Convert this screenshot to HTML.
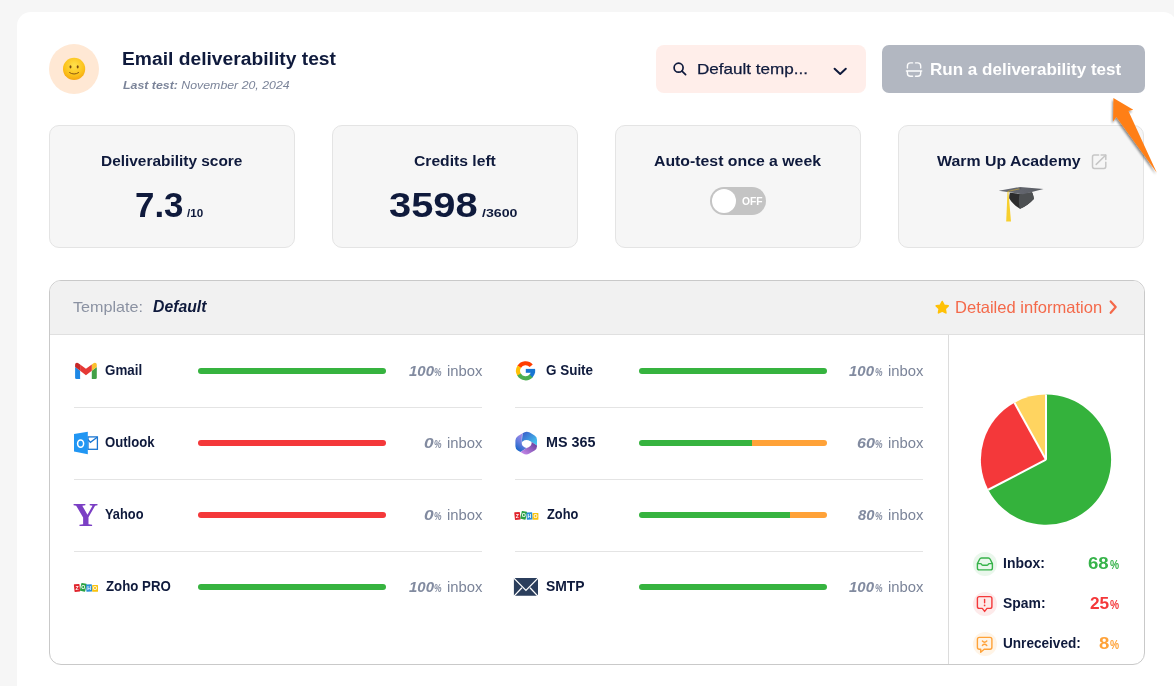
<!DOCTYPE html>
<html lang="en">
<head>
<meta charset="utf-8">
<title>Email deliverability test</title>
<style>
*{box-sizing:border-box;margin:0;padding:0}
html,body{width:1174px;height:686px;overflow:hidden;background:#f6f6f6;font-family:"Liberation Sans",sans-serif;color:#0f1a3c}
.abs{position:absolute}
.tx{position:absolute;line-height:1;white-space:nowrap;transform-origin:0 0}
#main{position:absolute;left:17px;top:12px;width:1160px;height:700px;background:#fff;border-radius:14px 14px 0 0}
#avatar{left:49px;top:44px;width:50px;height:50px;border-radius:50%;background:#ffe8d4}
#select{left:656px;top:45px;width:210px;height:48px;border-radius:8px;background:#ffeeea}
#runbtn{left:882px;top:45px;width:263px;height:48px;border-radius:7px;background:#b2b7c1}
.stat{position:absolute;top:125px;width:246px;height:123px;background:#f6f6f6;border:1px solid #e4e4e4;border-radius:10px}
#toggle{left:710px;top:187px;width:56px;height:28px;border-radius:14px;background:#c4c4c4}
#toggle i{position:absolute;left:2px;top:2px;width:24px;height:24px;border-radius:50%;background:#fff}
#panel{left:49px;top:280px;width:1096px;height:385px;border:1px solid #c9c9c9;border-radius:12px;background:#fff;overflow:hidden}
#phead{position:absolute;left:0;top:0;right:0;height:54px;background:#f1f1f1;border-bottom:1px solid #e0e0e0}
#vdiv{position:absolute;left:898px;top:54px;bottom:0;width:1px;background:#dcdcdc}
.bar{position:absolute;width:188px;height:6px;border-radius:3px;overflow:hidden}
.bar b{display:block;float:left;height:100%}
.bar b.g{background:#36b33f}.bar b.r{background:#f4383a}.bar b.o{background:#ffa238}
.sep{position:absolute;height:1px;width:408px;background:#e4e4e4}
.lic{position:absolute;left:973px;width:24px;height:24px;border-radius:50%}
svg{position:absolute;left:0;top:0;overflow:visible}
#yahoo{position:absolute;left:73.2px;top:498.6px;font-family:"Liberation Serif",serif;font-weight:700;font-size:33px;line-height:1;color:#7b3fc4;transform:scaleX(1.055);transform-origin:0 0}

</style>
</head>
<body>
<div id="main"></div>
<div id="avatar" class="abs"></div>
<div id="select" class="abs"></div>
<div id="runbtn" class="abs"></div>
<div class="stat" style="left:49px"></div>
<div class="stat" style="left:332px"></div>
<div class="stat" style="left:615px"></div>
<div class="stat" style="left:898px"></div>
<div id="toggle" class="abs"><i></i></div>
<div id="panel" class="abs"><div id="phead"></div><div id="vdiv"></div></div>
<div class="bar" style="left:198.0px;top:368px"><b class="g" style="width:100%"></b></div>
<div class="sep" style="left:74.0px;top:407px"></div>
<div class="bar" style="left:198.0px;top:440px"><b class="r" style="width:100%"></b></div>
<div class="sep" style="left:74.0px;top:479px"></div>
<div class="bar" style="left:198.0px;top:512px"><b class="r" style="width:100%"></b></div>
<div class="sep" style="left:74.0px;top:551px"></div>
<div class="bar" style="left:198.0px;top:584px"><b class="g" style="width:100%"></b></div>
<div class="bar" style="left:638.6px;top:368px"><b class="g" style="width:100%"></b></div>
<div class="sep" style="left:514.6px;top:407px"></div>
<div class="bar" style="left:638.6px;top:440px"><b class="g" style="width:60.4%"></b><b class="o" style="width:39.6%"></b></div>
<div class="sep" style="left:514.6px;top:479px"></div>
<div class="bar" style="left:638.6px;top:512px"><b class="g" style="width:80.5%"></b><b class="o" style="width:19.5%"></b></div>
<div class="sep" style="left:514.6px;top:551px"></div>
<div class="bar" style="left:638.6px;top:584px"><b class="g" style="width:100%"></b></div>
<div class="lic" style="top:552px;background:#eaf7ec"></div>
<div class="lic" style="top:592px;background:#fdeaea"></div>
<div class="lic" style="top:632px;background:#fff4e6"></div>
<svg width="1174" height="686" viewBox="0 0 1174 686">
<defs><radialGradient id="gsm" cx="0.5" cy="0.35" r="0.75"><stop offset="0" stop-color="#ffe14d"/><stop offset="0.6" stop-color="#fcc21b"/><stop offset="1" stop-color="#f29a0f"/></radialGradient><linearGradient id="gm1" x1="0" y1="0" x2="1" y2="1"><stop offset="0" stop-color="#3a56c8"/><stop offset="1" stop-color="#45d4f5"/></linearGradient><linearGradient id="gm2" x1="0.8" y1="0" x2="0.3" y2="1"><stop offset="0" stop-color="#b98ae8"/><stop offset="0.5" stop-color="#6f7fe0"/><stop offset="1" stop-color="#1565c8"/></linearGradient><linearGradient id="gm3" x1="0" y1="1" x2="1" y2="0"><stop offset="0" stop-color="#cf8ff0"/><stop offset="1" stop-color="#5c3796"/></linearGradient><linearGradient id="gbd" x1="0" y1="0" x2="1" y2="0"><stop offset="0" stop-color="#6a6d76"/><stop offset="1" stop-color="#5a5d64"/></linearGradient><filter id="ash" x="-30%" y="-30%" width="160%" height="160%"><feGaussianBlur in="SourceAlpha" stdDeviation="1.2"/><feOffset dx="-1.5" dy="1.5"/><feComponentTransfer><feFuncA type="linear" slope="0.45"/></feComponentTransfer><feMerge><feMergeNode/><feMergeNode in="SourceGraphic"/></feMerge></filter></defs>
<g id="smiley"><circle cx="74.1" cy="68.9" r="11.1" fill="url(#gsm)"/><ellipse cx="70.5" cy="66.8" rx="1.0" ry="1.6" fill="#7a4a10"/><ellipse cx="77.7" cy="66.8" rx="1.0" ry="1.6" fill="#7a4a10"/><path d="M69.6 72.6 Q74.1 75.6 78.6 72.6" fill="none" stroke="#7a4a10" stroke-width="0.9" stroke-linecap="round"/></g>
<g id="search" fill="none" stroke="#0f1a3c" stroke-width="1.7" stroke-linecap="round"><circle cx="678.6" cy="67.7" r="4.5"/><path d="M682 71.1 L685.6 74.7"/></g>
<path id="chev" d="M834.6 68.8 L840.2 74 L845.8 68.8" fill="none" stroke="#0f1a3c" stroke-width="2" stroke-linecap="round" stroke-linejoin="round"/>
<g id="scan" fill="none" stroke="#fff" stroke-width="1.4" stroke-linecap="round" opacity="0.95"><path d="M907.4 68 V66 Q907.4 62.9 910.5 62.9 H912.6"/><path d="M915.5 62.9 H917.6 Q920.7 62.9 920.7 66 V68"/><path d="M906.4 71 H921.7"/><path d="M907.4 71.5 V73.2 Q907.4 76.3 910.5 76.3 H912.6"/><path d="M915.5 76.3 H917.6 Q920.7 76.3 920.7 73.2 V71.5"/></g>
<g id="ext" fill="none" stroke="#c6c6c6" stroke-width="1.5" stroke-linecap="round" stroke-linejoin="round"><path d="M1098.6 155.1 H1094.3 Q1092.5 155.1 1092.5 156.9 V166.6 Q1092.5 168.4 1094.3 168.4 H1104 Q1105.8 168.4 1105.8 166.6 V162.3"/><path d="M1096.2 164.4 L1105.6 155.3"/><path d="M1101.1 155.1 H1105.8 V159.6"/></g>
<g id="gcap"><path d="M1009.9 192.8 C1009.3 195 1009 197 1009.3 198.6 C1012 203.4 1016 206.4 1020.1 208.8 C1025 206.6 1030 203.2 1033.8 199 C1033.7 196.5 1032.9 194 1032 192.2 L1020.1 193.8 Z" fill="#2c2c2d"/><path d="M1019.6 208.5 L1020.1 208.8 C1025 206.6 1030 203.2 1033.8 199 C1033.7 196.5 1032.9 194 1032 192.2 L1019.6 193.6 C1018.6 198 1018.6 204 1019.6 208.5 Z" fill="#4d5052"/><path d="M998.7 190.8 L1020.1 187 L1043.5 189.1 L1022.9 194.3 Z" fill="url(#gbd)"/><path d="M1020.1 188.7 L1008 191.4" stroke="#d9b233" stroke-width="0.6" fill="none"/><path d="M1007.5 191.6 L1008.4 191.6 L1011 221.6 L1006.2 221.6 Z" fill="#f7cf2e"/><ellipse cx="1020.2" cy="188.7" rx="1.1" ry="0.6" fill="#55585f"/></g>
<path id="arrow" filter="url(#ash)" d="M1113.4 98.1 L1133.3 109.7 L1128.4 110.9 L1156.8 172.8 L1116.3 117 L1113.1 121.6 Z" fill="#ff7f17"/>
<polygon id="star" points="942.20,301.50 944.08,305.21 948.19,305.85 945.24,308.79 945.90,312.90 942.20,311.00 938.50,312.90 939.16,308.79 936.21,305.85 940.32,305.21" fill="#ffc107" stroke="#ffc107" stroke-width="1.6" stroke-linejoin="round"/>
<path id="chevr" d="M1110.7 301.4 L1115.7 307.1 L1110.7 312.8" fill="none" stroke="#f4694a" stroke-width="2.2" stroke-linecap="round" stroke-linejoin="round"/>
<g transform="translate(75.1,362.8)"><path d="M0 4.2 L5 8 V16.3 H1.4 Q0 16.3 0 14.9 Z" fill="#1e88e5"/><path d="M21.7 4.2 L16.7 8 V16.3 H20.3 Q21.7 16.3 21.7 14.9 Z" fill="#43a047"/><path d="M16.7 1.6 L18.4 0.4 Q19.6 -0.4 20.8 0.3 Q21.7 0.9 21.7 2.2 V4.2 L16.7 8 Z" fill="#fbc02d"/><path d="M5 1.6 L3.3 0.4 Q2.1 -0.4 0.9 0.3 Q0 0.9 0 2.2 V4.2 L5 8 Z" fill="#c62828"/><path d="M5 1.6 L10.85 6 L16.7 1.6 V8 L10.85 12.4 L5 8 Z" fill="#e53935"/></g>
<g id="outlook"><rect x="88" y="436.9" width="9.4" height="12.4" fill="#fff" stroke="#1976d2" stroke-width="1.3"/><path d="M87.6 439.4 L90.4 442.3 L97.2 437.2" fill="none" stroke="#1976d2" stroke-width="1.3"/><path d="M74 434 L87.8 431.8 V454.2 L74 451.6 Z" fill="#2196f3"/><ellipse cx="80.6" cy="443.6" rx="3" ry="3.7" fill="none" stroke="#fff" stroke-width="1.5"/></g>
<g transform="translate(74,582.9)"><rect x="0.2" y="1.2" width="5.6" height="7.6" rx="0.5" fill="#e0252d" transform="rotate(-6 3 5)"/><rect x="6.6" y="0.4" width="5.4" height="8" rx="0.5" fill="#2aa244" transform="rotate(12 9.3 4.4)"/><rect x="12.2" y="1.4" width="5.8" height="7.4" rx="0.5" fill="#2b8fd6" transform="rotate(-4 15 5)"/><rect x="18.2" y="2.1" width="5.8" height="6.8" rx="0.5" fill="#f9c20f"/><g font-family="Liberation Sans, sans-serif" font-weight="700" font-size="5.2" fill="#fff" text-anchor="middle"><text x="3" y="7">Z</text><text x="9.3" y="6.6">O</text><text x="15.1" y="7.1">H</text><text x="21.1" y="7.4">O</text></g></g>
<g transform="translate(514.4,510.9)"><rect x="0.2" y="1.2" width="5.6" height="7.6" rx="0.5" fill="#e0252d" transform="rotate(-6 3 5)"/><rect x="6.6" y="0.4" width="5.4" height="8" rx="0.5" fill="#2aa244" transform="rotate(12 9.3 4.4)"/><rect x="12.2" y="1.4" width="5.8" height="7.4" rx="0.5" fill="#2b8fd6" transform="rotate(-4 15 5)"/><rect x="18.2" y="2.1" width="5.8" height="6.8" rx="0.5" fill="#f9c20f"/><g font-family="Liberation Sans, sans-serif" font-weight="700" font-size="5.2" fill="#fff" text-anchor="middle"><text x="3" y="7">Z</text><text x="9.3" y="6.6">O</text><text x="15.1" y="7.1">H</text><text x="21.1" y="7.4">O</text></g></g>
<g id="goog" fill="none" stroke-width="4.1"><path d="M519.20 366.80 A7.55 7.55 0 0 1 531.21 365.75" stroke="#ff3d00"/><path d="M519.20 374.80 A7.55 7.55 0 0 1 519.34 366.58" stroke="#ffc107"/><path d="M531.38 375.65 A7.55 7.55 0 0 1 519.06 374.57" stroke="#4caf50"/><path d="M533.15 370.54 A7.55 7.55 0 0 1 531.03 376.04" stroke="#1976d2"/></g><rect x="525.8000000000001" y="368.90000000000003" width="9.3" height="3.9" fill="#1976d2"/>
<g id="ms365"><path d="M522.6 433.2 Q526.2 430.4 529.8 432.6 L534.6 435.5 Q537 437 537 439.8 V445.6 L530.4 441.3 Q526.2 438.6 522.6 441.4 L521.8 442 Z" fill="url(#gm1)"/><path d="M522.6 433.2 L518 436 Q515.4 437.6 515.4 440.4 V446.2 Q515.4 449 517.8 450.4 L520.5 452 L526.8 447.9 Q522.6 447.2 521.8 444 V438 Q521.8 434.4 522.6 433.2 Z" fill="url(#gm2)"/><path d="M520.5 452 L523 453.6 Q526.2 455.6 529.4 453.6 L534.6 450.4 Q537 449 537 446.2 V445.6 L531.6 442.1 Q531.9 445.8 528.6 447.2 L526.8 447.9 Z" fill="url(#gm3)"/></g>
<g id="smtp"><rect x="513.9" y="577.9" width="24.1" height="17.9" rx="0.6" fill="#2b3e5c"/><path d="M513.4 577.6 L525.95 590.4 L538.5 577.6 M513.8 596.4 L521.9 587.8 M538.1 596.4 L530 587.8" fill="none" stroke="#fff" stroke-width="1.3"/></g>
<g id="pie"><path d="M1046 459.7 L1046.00 394.60 A65.1 65.1 0 1 1 988.26 489.76 Z" fill="#34b23c"/><path d="M1046 459.7 L988.26 489.76 A65.1 65.1 0 0 1 1014.44 402.76 Z" fill="#f4383a"/><path d="M1046 459.7 L1014.44 402.76 A65.1 65.1 0 0 1 1046.00 394.60 Z" fill="#ffd460"/><path d="M1046 459.7 L1046.00 394.60" stroke="#fff" stroke-width="2" stroke-linecap="butt" fill="none"/><path d="M1046 459.7 L988.26 489.76" stroke="#fff" stroke-width="2" stroke-linecap="butt" fill="none"/><path d="M1046 459.7 L1014.44 402.76" stroke="#fff" stroke-width="2" stroke-linecap="butt" fill="none"/></g>
<g id="licons" fill="none" stroke-width="1.4" stroke-linecap="round" stroke-linejoin="round"><g stroke="#37b34a"><path d="M977.4 563.6 L979.6 559.2 Q980.2 558 981.5 558 H988.3 Q989.6 558 990.2 559.2 L992.4 563.6 V567.9 Q992.4 569.9 990.4 569.9 H979.4 Q977.4 569.9 977.4 567.9 Z"/><path d="M977.6 563.6 H980.4 Q981.2 563.6 981.6 564.4 Q982.1 565.3 983 565.3 H986.8 Q987.7 565.3 988.2 564.4 Q988.6 563.6 989.4 563.6 H992.2"/></g><g stroke="#f4383a"><path d="M979.4 596.6 H989.9 Q991.9 596.6 991.9 598.6 V606.4 Q991.9 608.4 989.9 608.4 H987 L984.65 611.4 L982.3 608.4 H979.4 Q977.4 608.4 977.4 606.4 V598.6 Q977.4 596.6 979.4 596.6 Z"/><path d="M984.6 599.5 V602.7"/><path d="M984.6 605.4 V605.5" stroke-width="1.7"/></g><g stroke="#ffa238"><path d="M979.4 637.4 H989.9 Q991.9 637.4 991.9 639.4 V647.2 Q991.9 649.2 989.9 649.2 H984.2 L980.7 652.2 V649.2 H979.4 Q977.4 649.2 977.4 647.2 V639.4 Q977.4 637.4 979.4 637.4 Z"/><path d="M982.4 641 Q984.5 643.4 986.8 641"/><path d="M982.4 645.4 Q984.5 643 986.8 645.4"/></g></g>
</svg>
<div id="yahoo">Y</div>
<div class="tx" id="title" style="left:122.18px;top:49.29px;font-size:19.19px;transform:scaleX(1.0033);font-weight:700;color:#0f1a3c">Email deliverability test</div>
<div class="tx" id="sub" style="left:123.30px;top:80.16px;font-size:11.34px;transform:scaleX(1.0894);font-style:italic;color:#7b8499"><b>Last test:</b> November 20, 2024</div>
<div class="tx" id="seltx" style="left:697.44px;top:60.70px;font-size:15.41px;transform:scaleX(1.1086);color:#0f1a3c;-webkit-text-stroke:0.25px #0f1a3c">Default temp...</div>
<div class="tx" id="btntx" style="left:929.96px;top:61.30px;font-size:17.3px;transform:scaleX(0.9856);font-weight:700;color:#fff">Run a deliverability test</div>
<div class="tx" id="lbl1" style="left:100.84px;top:152.78px;font-size:15.55px;transform:scaleX(0.9918);font-weight:700;color:#0f1a3c">Deliverability score</div>
<div class="tx" id="lbl2" style="left:414.02px;top:152.78px;font-size:15.55px;transform:scaleX(1.0075);font-weight:700;color:#0f1a3c">Credits left</div>
<div class="tx" id="lbl3" style="left:654.18px;top:152.78px;font-size:15.55px;transform:scaleX(1.0174);font-weight:700;color:#0f1a3c">Auto-test once a week</div>
<div class="tx" id="lbl4" style="left:937.10px;top:152.78px;font-size:15.55px;transform:scaleX(1.0217);font-weight:700;color:#0f1a3c">Warm Up Academy</div>
<div class="tx" id="v1" style="left:134.96px;top:187.90px;font-size:34.59px;transform:scaleX(1.0092);font-weight:700;color:#0f1a3c">7.3</div>
<div class="tx" id="v1s" style="left:187.40px;top:207.54px;font-size:11.48px;transform:scaleX(1.0155);font-weight:700;color:#0f1a3c">/10</div>
<div class="tx" id="v2" style="left:389.02px;top:187.90px;font-size:34.59px;transform:scaleX(1.1528);font-weight:700;color:#0f1a3c">3598</div>
<div class="tx" id="v2s" style="left:481.70px;top:207.54px;font-size:11.48px;transform:scaleX(1.2368);font-weight:700;color:#0f1a3c">/3600</div>
<div class="tx" id="off" style="left:741.60px;top:195.74px;font-size:10.9px;transform:scaleX(0.9473);font-weight:700;color:#fff">OFF</div>
<div class="tx" id="tpl" style="left:73.30px;top:298.90px;font-size:15.41px;transform:scaleX(1.0485);color:#8b92a2">Template:</div>
<div class="tx" id="tplv" style="left:152.60px;top:299.41px;font-size:15.99px;transform:scaleX(0.9857);font-weight:700;font-style:italic;color:#0f1a3c">Default</div>
<div class="tx" id="detail" style="left:954.92px;top:298.86px;font-size:16.28px;transform:scaleX(1.0170);color:#f4694a">Detailed information</div>
<div class="tx" id="n0" style="left:105.20px;top:362.78px;font-size:14.97px;transform:scaleX(0.8921);font-weight:700;color:#0f1a3c">Gmail</div>
<div class="tx" id="p0" style="left:408.60px;top:363.79px;font-size:14.83px;transform:scaleX(1.0101);font-weight:700;font-style:italic;color:#828ba0">100</div>
<div class="tx" id="q0" style="left:434.20px;top:367.50px;font-size:10.47px;transform:scaleX(0.8054);font-weight:700;font-style:italic;color:#828ba0">%</div>
<div class="tx" id="i0" style="left:447.30px;top:364.05px;font-size:14.53px;transform:scaleX(1.0227);color:#7b8499">inbox</div>
<div class="tx" id="n1" style="left:105.20px;top:434.78px;font-size:14.97px;transform:scaleX(0.8778);font-weight:700;color:#0f1a3c">Outlook</div>
<div class="tx" id="p1" style="left:424.44px;top:435.79px;font-size:14.83px;transform:scaleX(1.1643);font-weight:700;font-style:italic;color:#828ba0">0</div>
<div class="tx" id="q1" style="left:434.20px;top:439.50px;font-size:10.47px;transform:scaleX(0.8054);font-weight:700;font-style:italic;color:#828ba0">%</div>
<div class="tx" id="i1" style="left:447.30px;top:436.05px;font-size:14.53px;transform:scaleX(1.0227);color:#7b8499">inbox</div>
<div class="tx" id="n2" style="left:105.10px;top:506.78px;font-size:14.97px;transform:scaleX(0.8570);font-weight:700;color:#0f1a3c">Yahoo</div>
<div class="tx" id="p2" style="left:424.44px;top:507.79px;font-size:14.83px;transform:scaleX(1.1643);font-weight:700;font-style:italic;color:#828ba0">0</div>
<div class="tx" id="q2" style="left:434.20px;top:511.50px;font-size:10.47px;transform:scaleX(0.8054);font-weight:700;font-style:italic;color:#828ba0">%</div>
<div class="tx" id="i2" style="left:447.30px;top:508.05px;font-size:14.53px;transform:scaleX(1.0227);color:#7b8499">inbox</div>
<div class="tx" id="n3" style="left:105.60px;top:578.78px;font-size:14.97px;transform:scaleX(0.8858);font-weight:700;color:#0f1a3c">Zoho PRO</div>
<div class="tx" id="p3" style="left:408.60px;top:579.79px;font-size:14.83px;transform:scaleX(1.0101);font-weight:700;font-style:italic;color:#828ba0">100</div>
<div class="tx" id="q3" style="left:434.20px;top:583.50px;font-size:10.47px;transform:scaleX(0.8054);font-weight:700;font-style:italic;color:#828ba0">%</div>
<div class="tx" id="i3" style="left:447.30px;top:580.05px;font-size:14.53px;transform:scaleX(1.0227);color:#7b8499">inbox</div>
<div class="tx" id="n4" style="left:546.20px;top:362.78px;font-size:14.97px;transform:scaleX(0.8986);font-weight:700;color:#0f1a3c">G Suite</div>
<div class="tx" id="p4" style="left:849.30px;top:363.79px;font-size:14.83px;transform:scaleX(1.0101);font-weight:700;font-style:italic;color:#828ba0">100</div>
<div class="tx" id="q4" style="left:874.90px;top:367.50px;font-size:10.47px;transform:scaleX(0.8054);font-weight:700;font-style:italic;color:#828ba0">%</div>
<div class="tx" id="i4" style="left:887.92px;top:364.05px;font-size:14.53px;transform:scaleX(1.0227);color:#7b8499">inbox</div>
<div class="tx" id="n5" style="left:546.20px;top:434.78px;font-size:14.97px;transform:scaleX(0.9581);font-weight:700;color:#0f1a3c">MS 365</div>
<div class="tx" id="p5" style="left:857.02px;top:435.79px;font-size:14.83px;transform:scaleX(1.0867);font-weight:700;font-style:italic;color:#828ba0">60</div>
<div class="tx" id="q5" style="left:874.90px;top:439.50px;font-size:10.47px;transform:scaleX(0.8054);font-weight:700;font-style:italic;color:#828ba0">%</div>
<div class="tx" id="i5" style="left:887.92px;top:436.05px;font-size:14.53px;transform:scaleX(1.0227);color:#7b8499">inbox</div>
<div class="tx" id="n6" style="left:546.60px;top:506.78px;font-size:14.97px;transform:scaleX(0.8566);font-weight:700;color:#0f1a3c">Zoho</div>
<div class="tx" id="p6" style="left:857.90px;top:507.79px;font-size:14.83px;transform:scaleX(0.9939);font-weight:700;font-style:italic;color:#828ba0">80</div>
<div class="tx" id="q6" style="left:874.90px;top:511.50px;font-size:10.47px;transform:scaleX(0.8054);font-weight:700;font-style:italic;color:#828ba0">%</div>
<div class="tx" id="i6" style="left:887.92px;top:508.05px;font-size:14.53px;transform:scaleX(1.0227);color:#7b8499">inbox</div>
<div class="tx" id="n7" style="left:545.96px;top:578.78px;font-size:14.97px;transform:scaleX(0.9292);font-weight:700;color:#0f1a3c">SMTP</div>
<div class="tx" id="p7" style="left:849.30px;top:579.79px;font-size:14.83px;transform:scaleX(1.0101);font-weight:700;font-style:italic;color:#828ba0">100</div>
<div class="tx" id="q7" style="left:874.90px;top:583.50px;font-size:10.47px;transform:scaleX(0.8054);font-weight:700;font-style:italic;color:#828ba0">%</div>
<div class="tx" id="i7" style="left:887.92px;top:580.05px;font-size:14.53px;transform:scaleX(1.0227);color:#7b8499">inbox</div>
<div class="tx" id="lg0" style="left:1003.30px;top:554.55px;font-size:15.12px;transform:scaleX(0.9236);font-weight:700;color:#0f1a3c">Inbox:</div>
<div class="tx" id="lv0" style="left:1088.44px;top:556.19px;font-size:16.72px;transform:scaleX(1.1129);font-weight:700;color:#37b34a">68</div>
<div class="tx" id="lq0" style="left:1109.70px;top:559.40px;font-size:12.94px;transform:scaleX(0.7902);font-weight:700;color:#37b34a">%</div>
<div class="tx" id="lg1" style="left:1003.30px;top:594.55px;font-size:15.12px;transform:scaleX(0.9210);font-weight:700;color:#0f1a3c">Spam:</div>
<div class="tx" id="lv1" style="left:1089.66px;top:596.19px;font-size:16.72px;transform:scaleX(1.0318);font-weight:700;color:#f4383a">25</div>
<div class="tx" id="lq1" style="left:1109.70px;top:599.40px;font-size:12.94px;transform:scaleX(0.7902);font-weight:700;color:#f4383a">%</div>
<div class="tx" id="lg2" style="left:1003.30px;top:634.55px;font-size:15.12px;transform:scaleX(0.8992);font-weight:700;color:#0f1a3c">Unreceived:</div>
<div class="tx" id="lv2" style="left:1098.96px;top:636.19px;font-size:16.72px;transform:scaleX(1.1134);font-weight:700;color:#ffa238">8</div>
<div class="tx" id="lq2" style="left:1109.70px;top:639.40px;font-size:12.94px;transform:scaleX(0.7902);font-weight:700;color:#ffa238">%</div>
</body>
</html>
